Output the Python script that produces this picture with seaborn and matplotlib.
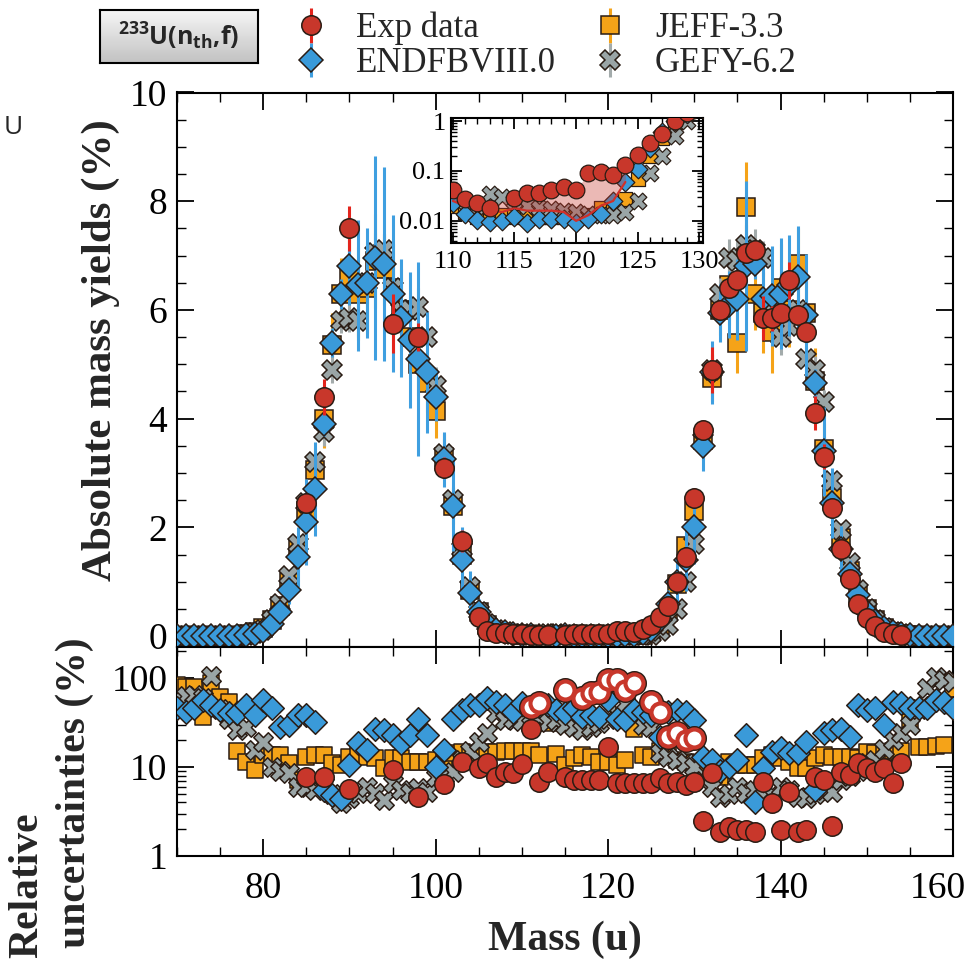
import matplotlib
matplotlib.use("Agg")
import numpy as np
import pandas as pd
import matplotlib.pyplot as plt
import seaborn as sns
from matplotlib.ticker import MultipleLocator, FixedLocator, FixedFormatter, NullFormatter, LogLocator
from matplotlib.colors import LinearSegmentedColormap
from matplotlib.transforms import ScaledTranslation

# ---------------- data ----------------
mass = list(range(70, 161))

endf_yield = [0.0, 0.0, 0.0, 0.0, 0.0, 0.0, 0.001, 0.004, 0.015, 0.04,
              0.1, 0.22, 0.45, 0.85, 1.45, 2.1, 2.7, 3.9, 5.4, 6.3,
              6.8, 6.45, 6.5, 6.95, 6.85, 6.3, 5.85, 5.45, 5.1, 4.85,
              4.4, 3.25, 2.4, 1.4, 0.8, 0.45, 0.22, 0.12, 0.07, 0.04,
              0.023, 0.014, 0.0105, 0.0093, 0.0098, 0.012, 0.009, 0.011, 0.011, 0.011,
              0.009, 0.011, 0.014, 0.025, 0.06, 0.11, 0.29, 0.6, 1.0, 1.4,
              2.0, 3.5, 4.85, 5.95, 6.1, 6.2, 6.8, 6.85, 6.2, 6.25,
              6.3, 6.45, 6.6, 5.9, 4.65, 3.4, 2.45, 1.6, 1.15, 0.75,
              0.45, 0.27, 0.15, 0.08, 0.04, 0.02, 0.01, 0.004, 0.002, 0.001,
              0.0]
jeff_yield = [0.0, 0.0, 0.0, 0.0, 0.0, 0.001, 0.003, 0.01, 0.03, 0.07,
              0.15, 0.3, 0.55, 1.0, 1.6, 2.3, 3.05, 4.0, 5.35, 6.3,
              6.6, 6.3, 6.4, 6.9, 6.75, 6.4, 6.0, 5.5, 5.0, 4.65,
              4.15, 3.3, 2.4, 1.5, 0.85, 0.45, 0.2, 0.1, 0.06, 0.035,
              0.02, 0.015, 0.012, 0.012, 0.013, 0.012, 0.012, 0.012, 0.012, 0.012,
              0.012, 0.013, 0.018, 0.02, 0.027, 0.07, 0.2, 0.45, 0.95, 1.65,
              2.3, 3.6, 4.75, 6.0, 6.45, 5.4, 7.9, 6.3, 5.95, 5.6,
              6.4, 6.0, 6.85, 5.95, 4.7, 3.45, 2.55, 1.8, 1.2, 0.75,
              0.5, 0.3, 0.15, 0.08, 0.04, 0.02, 0.01, 0.005, 0.002, 0.001,
              0.0]
gefy_yield = [0.0, 0.0, 0.0, 0.0, 0.0, 0.0, 0.002, 0.008, 0.02, 0.05,
              0.12, 0.3, 0.6, 1.1, 1.7, 2.45, 3.2, 3.75, 4.9, 5.8,
              5.85, 5.8, 6.5, 7.05, 7.1, 6.4, 6.0, 6.0, 6.05, 5.5,
              4.6, 3.35, 2.5, 1.6, 0.9, 0.45, 0.22, 0.11, 0.07, 0.045,
              0.03, 0.025, 0.02, 0.035, 0.03, 0.025, 0.02, 0.018, 0.017, 0.016,
              0.015, 0.014, 0.013, 0.013, 0.015, 0.025, 0.09, 0.2, 0.5, 1.0,
              1.7, 3.6, 4.9, 6.3, 6.95, 6.9, 7.2, 7.1, 6.95, 6.0,
              5.5, 5.7, 6.0, 5.1, 4.9, 4.3, 2.85, 1.95, 1.35, 0.85,
              0.5, 0.3, 0.15, 0.07, 0.03, 0.01, 0.005, 0.002, 0.001, 0.0,
              0.0]

endf_unc = [46, 41, 46, 56, 50, 44, 40, 40, 50, 38,
            56, 46, 28, 30, 38, 38, 32, 5.5, 4.8, 4.4,
            10.5, 18.6, 15.5, 27, 26, 23, 18.6, 23, 35, 23,
            10, 15.5, 35, 44, 50, 50, 60, 54, 50, 41,
            52, 45, 48, 50, 44, 40, 46, 36, 38, 36,
            56, 35, 34, 44, 41, 38, 22, 41, 44, 41,
            34, 13, 12, 9, 10, 12, 23, 4, 9.7, 14.7,
            16.3, 14.3, 14.3, 19, 5.5, 24, 26, 27, 22, 50,
            44, 46, 30, 54, 52, 46, 46, 46, 56, 54,
            46]
jeff_unc = [83, 80, 79, 36, 88, 61, 54, 15, 11.4, 9.3,
            13.6, 13.6, 13.6, 11, 7.1, 13, 13.6, 13.6, 11, 10.5,
            13, 13.6, 13, 12.6, 9.7, 12.6, 12.6, 11.4, 11.4, 11.4,
            12, 12.6, 14.3, 14.7, 13.6, 14.3, 14.7, 14.7, 15, 15,
            15, 15, 13.6, 31, 14, 10.5, 12.6, 13.6, 13, 11.4,
            11.4, 10.5, 12, 27, 13.6, 13, 15, 16.3, 12, 11.4,
            11, 10, 9, 7.7, 11.4, 10.5, 10.5, 10.5, 12.6, 13.6,
            12.6, 11.4, 9.7, 9.7, 12.6, 13.6, 13, 13, 13, 12.6,
            14.7, 14.3, 14.3, 15, 15, 32, 16.7, 16.7, 17, 17.5,
            75]
gefy_unc = [60, 62, 65, 60, 105, 45, 35, 26, 28, 15.5,
            19, 10, 9, 8.6, 6, 6, 5.5, 6.5, 5, 3.9,
            4.5, 5.1, 6, 5.1, 4.3, 6.6, 5.5, 5.1, 5.8, 5.2,
            7.7, 8, 8.8, 12, 15, 19, 24, 40, 34, 35,
            33, 30, 36, 32, 34, 30, 28, 26, 28, 31,
            35, 40, 52, 40, 30, 28, 14.3, 13, 12, 11,
            10, 7, 6, 4.6, 5, 6, 5.1, 5.5, 4.6, 5,
            6, 5.5, 4.6, 4.5, 5, 5.5, 5.2, 7.1, 8, 9,
            11, 12, 16, 20, 24, 30, 45, 77, 102, 95,
            90]

exp_mass = [85, 87, 90, 95, 98, 101, 103,
            105, 106, 107, 108, 109, 110, 111, 112, 113,
            115, 116, 117, 118, 119, 120, 121, 122, 123, 124,
            125, 126, 127, 128, 129, 130, 131, 132, 133, 134,
            135, 136, 137, 138, 139, 140, 141, 142, 143, 144,
            145, 146, 147, 148, 149, 150, 151, 152, 153, 154]
exp_yield = [2.45, 4.4, 7.5, 5.75, 5.5, 3.1, 1.75,
             0.35, 0.1, 0.065, 0.05, 0.045, 0.042, 0.027, 0.023, 0.018,
             0.029, 0.036, 0.036, 0.042, 0.048, 0.042, 0.09, 0.095, 0.083, 0.13,
             0.21, 0.36, 0.55, 1.0, 1.45, 2.55, 3.8, 4.9, 6.0, 6.4,
             6.55, 7.05, 7.1, 5.85, 5.85, 5.95, 6.55, 5.9, 5.6, 4.1,
             3.3, 2.35, 1.6, 1.05, 0.6, 0.33, 0.18, 0.07, 0.03, 0.015]
exp_unc = [7.7, 7.7, 5.6, 9.3, 4.6, 6.45, 11.4,
           9.7, 11.1, 7.7, 8.8, 8.5, 10.8, 27, 6.8, 8.8,
           7.7, 7.1, 7.1, 7.1, 7.1, 16.7, 6.6, 6.6, 6.6, 6.6,
           6.6, 7.5, 6.6, 6.8, 6.3, 6.8, 2.5, 8.6, 1.86, 2.1,
           1.96, 1.96, 1.86, 6.8, 3.9, 1.96, 5.2, 1.86, 1.96, 7.7,
           7.1, 2.2, 8.8, 8.1, 11, 9.7, 8.8, 9.7, 6.6, 11]

exp2_mass = [111, 112, 115, 117, 118, 119, 120, 121, 122, 123, 125, 126, 127, 128, 129, 130]
exp2_unc = [47, 52, 73, 60, 68, 70, 95, 95, 73, 88, 54, 41, 22, 24, 20, 21]

band_mass = [110, 111, 112, 113, 114, 115, 116, 117, 118, 119, 120, 121, 122, 123, 124]
band_low = [0.025, 0.02, 0.018, 0.016, 0.015, 0.018, 0.016, 0.016, 0.016, 0.015,
            0.010, 0.013, 0.02, 0.025, 0.06]
band_high = [0.042, 0.027, 0.023, 0.018, 0.024, 0.029, 0.036, 0.036, 0.042, 0.048,
             0.042, 0.09, 0.095, 0.083, 0.13]

legend_labels = ["Exp data", "ENDFBVIII.0", "JEFF-3.3", "GEFY-6.2"]
x_ticks = [80, 100, 120, 140, 160]
y_ticks_top = [0, 2, 4, 6, 8, 10]
y_ticks_low = [1, 10, 100]
inset_x_ticks = [110, 115, 120, 125, 130]
inset_y_ticks = [0.01, 0.1, 1]

# ---------------- style ----------------
sns.set_theme(style="ticks")
plt.rcParams['font.family'] = ['Liberation Serif', 'DejaVu Serif']
plt.rcParams['mathtext.fontset'] = 'custom'
plt.rcParams['mathtext.rm'] = 'Open Sans'
plt.rcParams['mathtext.bf'] = 'Open Sans:bold'

RED, RED_BAR = '#c8372b', '#e3241c'
BLUE, BLUE_BAR = '#3a9ad9', '#3f9fe0'
ORANGE, ORANGE_BAR = '#f5a318', '#f5a318'
GRAY, GRAY_BAR = '#9aa5a6', '#a3abab'
EDGE = '#2a1c14'

models = pd.DataFrame({"mass": mass,
                       "ENDF": endf_yield, "JEFF": jeff_yield, "GEFY": gefy_yield,
                       "ENDF_unc": endf_unc, "JEFF_unc": jeff_unc, "GEFY_unc": gefy_unc})
exp = pd.DataFrame({"mass": exp_mass, "y": exp_yield, "unc": exp_unc})
exp2 = pd.DataFrame({"mass": exp2_mass, "unc": exp2_unc})

W, H = 968, 963
def box(l, t, r, b):
    return [l / W, 1 - b / H, (r - l) / W, (b - t) / H]

fig = plt.figure(figsize=(W / 100, H / 100), dpi=100)
ax1 = fig.add_axes(box(177, 92.5, 953, 647))
ax2 = fig.add_axes(box(177, 647, 953, 856))
axi = fig.add_axes(box(451, 118, 703, 243))

# series: key, label, marker, face, bar colour, ms top, ms low, ms inset, zorder
series = [
    ("JEFF", "JEFF-3.3", "s", ORANGE, ORANGE_BAR, 13, 12, 10.5, 3),
    ("GEFY", "GEFY-6.2", "X", GRAY, GRAY_BAR, 15, 14, 12, 4),
    ("ENDF", "ENDFBVIII.0", "D", BLUE, BLUE_BAR, 12.5, 12, 9.5, 5),
]

# ---------------- top panel ----------------
handles = {}
for key, lab, mk, fc, bc, ms, _, _, z in series:
    y = models[key].to_numpy()
    err = y * models[key + "_unc"].to_numpy() / 100.0
    h = ax1.errorbar(models["mass"], y, yerr=err, fmt=mk, ms=ms, mfc=fc, mec=EDGE,
                     mew=1.1, ecolor=bc, elinewidth=2.2, capsize=0, label=lab, zorder=z)
    handles[lab] = h
h = ax1.errorbar(exp["mass"], exp["y"], yerr=exp["y"] * exp["unc"] / 100.0, fmt="o",
                 ms=14, mfc=RED, mec=EDGE, mew=1.1, ecolor=RED_BAR, elinewidth=2.2,
                 capsize=0, label="Exp data", zorder=6)
handles["Exp data"] = h

ax1.set_xlim(70, 160)
ax1.set_ylim(-0.2, 10)
ax1.yaxis.set_major_locator(FixedLocator(y_ticks_top))
ax1.yaxis.set_minor_locator(MultipleLocator(0.5))
ax1.xaxis.set_major_locator(FixedLocator(x_ticks))
ax1.xaxis.set_minor_locator(MultipleLocator(5))
ax1.tick_params(axis='x', labelbottom=False)

# ---------------- lower panel ----------------
for key, lab, mk, fc, bc, _, ms, _, z in series:
    sns.scatterplot(x=models["mass"], y=models[key + "_unc"], marker=mk, s=ms ** 2,
                    color=fc, edgecolor=EDGE, linewidth=1.1, ax=ax2, zorder=z, legend=False)
sns.scatterplot(x=exp2["mass"], y=exp2["unc"], marker="o", s=13 ** 2, color="white",
                edgecolor=EDGE, linewidth=5, ax=ax2, zorder=6, legend=False)
sns.scatterplot(x=exp2["mass"], y=exp2["unc"], marker="o", s=13 ** 2, color="white",
                edgecolor=RED, linewidth=3, ax=ax2, zorder=6.5, legend=False)
sns.scatterplot(x=exp["mass"], y=exp["unc"], marker="o", s=14 ** 2, color=RED,
                edgecolor=EDGE, linewidth=1.1, ax=ax2, zorder=7, legend=False)
ax2.set_yscale("log")
ax2.set_xlim(70, 160)
ax2.set_ylim(1, 223)
ax2.yaxis.set_major_locator(FixedLocator(y_ticks_low))
ax2.yaxis.set_major_formatter(FixedFormatter([str(v) for v in y_ticks_low]))
ax2.yaxis.set_minor_locator(LogLocator(base=10, subs=np.arange(2, 10)))
ax2.yaxis.set_minor_formatter(NullFormatter())
ax2.xaxis.set_major_locator(FixedLocator(x_ticks))
ax2.xaxis.set_minor_locator(MultipleLocator(5))
ax2.set_xlabel("")
ax2.set_ylabel("")

# ---------------- inset ----------------
sub = models[(models["mass"] >= 110) & (models["mass"] <= 130)]
for key, lab, mk, fc, bc, _, _, ms, z in series:
    sns.scatterplot(x=sub["mass"], y=sub[key], marker=mk, s=ms ** 2, color=fc,
                    edgecolor=EDGE, linewidth=0.9, ax=axi, zorder=z, legend=False)
axi.fill_between(band_mass, band_low, band_high, color=RED, alpha=0.35, lw=0, zorder=5.5)
sns.lineplot(x=band_mass, y=band_low, color='#d0302a', lw=1.6, ax=axi, zorder=5.6)
esub = exp[(exp["mass"] >= 110) & (exp["mass"] <= 130)]
sns.scatterplot(x=esub["mass"], y=esub["y"], marker="o", s=12 ** 2, color=RED,
                edgecolor=EDGE, linewidth=0.9, ax=axi, zorder=7, legend=False)
axi.set_yscale("log")
axi.set_xlim(109.85, 130.3)
axi.set_ylim(0.0036, 1.15)
axi.xaxis.set_major_locator(FixedLocator(inset_x_ticks))
axi.xaxis.set_minor_locator(MultipleLocator(1))
axi.yaxis.set_major_locator(FixedLocator(inset_y_ticks))
axi.yaxis.set_major_formatter(FixedFormatter(["0.01", "0.1", "1"]))
axi.yaxis.set_minor_locator(LogLocator(base=10, subs=np.arange(2, 10)))
axi.yaxis.set_minor_formatter(NullFormatter())
axi.set_xlabel("")
axi.set_ylabel("")

# ---------------- ticks / spines ----------------
for ax, fs, L in ((ax1, 27, 12), (ax2, 27, 12), (axi, 19, 8)):
    ax.tick_params(which='both', direction='in', top=True, right=True, colors='black')
    ax.tick_params(which='major', length=L, width=1.3, labelsize=fs, pad=7)
    ax.tick_params(which='minor', length=L * 0.55, width=1.0)
    for sp in ax.spines.values():
        sp.set_linewidth(1.5)
        sp.set_color('black')
    ax.set_facecolor('white')
ax2.tick_params(axis='x', which='major', pad=11)
axi.tick_params(axis='x', which='major', pad=6)
axi.tick_params(axis='y', which='major', pad=4)

# keep the last x tick label ("160") inside the canvas
fig.canvas.draw()
last = ax2.xaxis.get_major_ticks()[-1].label1
last.set_transform(last.get_transform() + ScaledTranslation(-15 / 100, 0, fig.dpi_scale_trans))

# ---------------- labels ----------------
fig.text(101 / W, 1 - 350 / H, "Absolute mass yields (%)", rotation=90, ha='center',
         va='center', fontsize=31, fontweight='bold')
fig.text(27 / W, 1 - 885 / H, "Relative", rotation=90, ha='center', va='center',
         fontsize=30, fontweight='bold')
fig.text(75 / W, 1 - 793 / H, "uncertainties (%)", rotation=90, ha='center', va='center',
         fontsize=30, fontweight='bold')
fig.text(565 / W, 1 - 940 / H, "Mass (u)", ha='center', va='center', fontsize=30,
         fontweight='bold')
fig.text(13 / W, 1 - 128 / H, "U", ha='center', va='center', fontsize=19,
         family=['Open Sans', 'DejaVu Sans'])

# legend
order = ["Exp data", "ENDFBVIII.0", "JEFF-3.3", "GEFY-6.2"]
fig.legend([handles[k] for k in order], legend_labels, ncol=2, loc='center left',
           bbox_to_anchor=(290 / W, 1 - 46 / H), frameon=False, fontsize=25,
           handlelength=1.2, handletextpad=0.7, columnspacing=0.95, labelspacing=0.05,
           borderpad=0, borderaxespad=0)

# title box with gradient
bx = fig.add_axes(box(100, 10, 258, 63))
grad = np.linspace(0, 1, 64).reshape(-1, 1)
cmap = LinearSegmentedColormap.from_list("g", ["#f6f6f6", "#c2c2c2"])
bx.imshow(grad, cmap=cmap, aspect='auto', extent=[0, 1, 0, 1], origin='upper')
bx.set_xticks([])
bx.set_yticks([])
for sp in bx.spines.values():
    sp.set_linewidth(1.5)
    sp.set_color('black')
bx.text(0.5, 0.5, r"$^{\mathbf{233}}\mathbf{U(n}_{\mathbf{th}}{\mathbf{,}}\mathbf{f)}$",
        ha='center', va='center', fontsize=18, transform=bx.transAxes)

fig.savefig("out.png", dpi=100)
